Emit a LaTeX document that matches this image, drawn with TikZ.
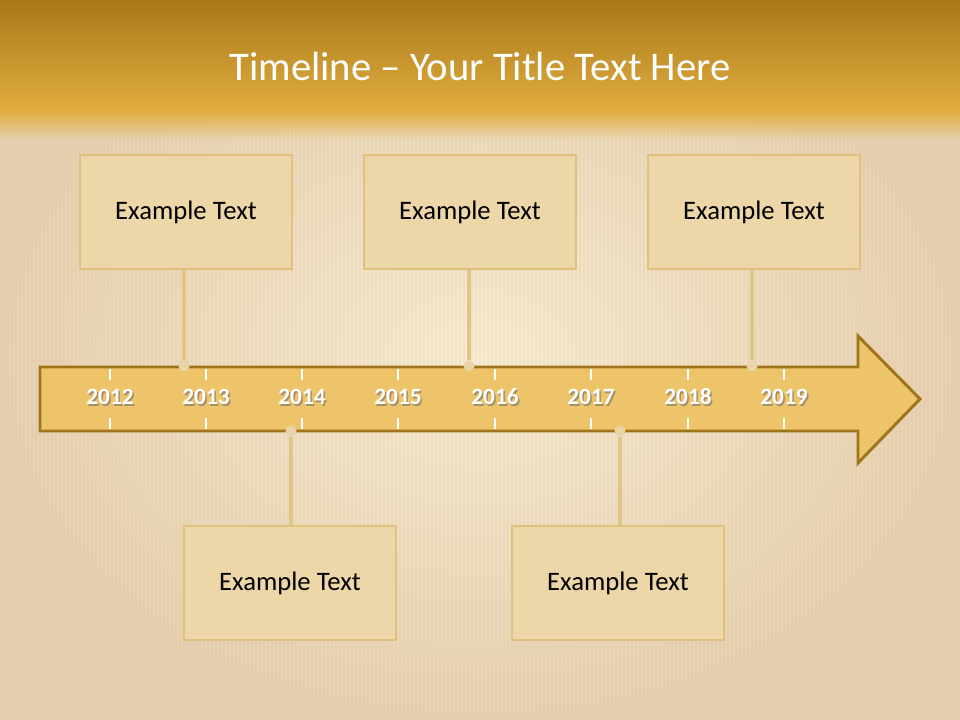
\documentclass[tikz,border=0pt]{standalone}
\usepackage{fontspec}
\setmainfont{Carlito}
\usetikzlibrary{fadings}
\definecolor{bgA}{HTML}{F8ECD2}
\definecolor{bgB}{HTML}{E6D0B0}
\definecolor{bandTop}{HTML}{A87818}
\definecolor{bandBot}{HTML}{E2AE40}
\definecolor{arrowFill}{HTML}{EEC46A}
\definecolor{arrowLine}{HTML}{A0741A}
\definecolor{boxFill}{HTML}{EDD6A8}
\definecolor{boxLine}{HTML}{DFC07C}
\definecolor{connLine}{HTML}{E0C686}
\definecolor{dotFill}{HTML}{E8D4A8}
\definecolor{stripe}{HTML}{D8BE98}
\tikzfading[name=fadedown, top color=transparent!0, bottom color=transparent!100]
\tikzset{
  textbox/.style={draw=boxLine, line width=2.2pt, fill=boxFill, minimum width=159pt, minimum height=85.5pt, inner sep=0pt, font=\fontsize{20}{24}\selectfont, text=black},
  year/.style={font=\bfseries\fontsize{17.5}{21}\selectfont, text=white, inner sep=0pt},
  yearshadow/.style={font=\bfseries\fontsize{17.5}{21}\selectfont, text=black!60, inner sep=0pt, opacity=0.55},
  conn/.style={draw=connLine, line width=2.8pt},
  dot/.style={circle, fill=dotFill, inner sep=0pt, minimum size=8pt},
  tick/.style={draw=white, line width=0.9pt}
}
\begin{document}
\begin{tikzpicture}[x=0.75pt,y=-0.75pt]
\useasboundingbox (0,0) rectangle (960,720);
% background
\shade[inner color=bgA, outer color=bgB] (0,0) rectangle (960,720);
\foreach \sx in {0,4,...,956}{
  \draw[stripe, opacity=0.16, line width=0.8pt] (\sx,112) -- (\sx,720);
}
\shade[top color=bandTop, bottom color=bandBot] (0,0) rectangle (960,112);
\fill[bandBot, path fading=fadedown] (0,111) rectangle (960,140);
\node[font=\fontsize{30.5}{36}\selectfont, text=white] (title) at (480,67) {Timeline – Your Title Text Here};
% arrow
\draw[fill=arrowFill, draw=arrowLine, line width=2.2pt, line join=miter]
  (40,367) -- (858,367) -- (858,336) -- (920,399) -- (858,463) -- (858,431) -- (40,431) -- cycle;
% ticks and years
\foreach \x/\y [count=\i] in {110/2012,206/2013,302/2014,398/2015,495/2016,591/2017,688/2018,784/2019}{
  \draw[tick] (\x,369) -- (\x,380);
  \draw[tick] (\x,418) -- (\x,429);
  \node[yearshadow] at (\x+1.5,398.5) {\y};
  \node[year] (y\i) at (\x,397) {\y};
}
% dots
\node[dot] (d1) at (184,366) {};
\node[dot] (d2) at (469,366) {};
\node[dot] (d3) at (752,366) {};
\node[dot] (d4) at (291,431) {};
\node[dot] (d5) at (620,431) {};
% boxes
\node[textbox] (b1) at (186,212) {Example Text};
\node[textbox] (b2) at (470,212) {Example Text};
\node[textbox] (b3) at (754,212) {Example Text};
\node[textbox] (b4) at (290,583) {Example Text};
\node[textbox] (b5) at (618,583) {Example Text};
% connectors
\draw[conn] (d1.north) -- (b1.south -| d1.north);
\draw[conn] (d2.north) -- (b2.south -| d2.north);
\draw[conn] (d3.north) -- (b3.south -| d3.north);
\draw[conn] (d4.south) -- (b4.north -| d4.south);
\draw[conn] (d5.south) -- (b5.north -| d5.south);
\node[dot] at (d1) {};
\node[dot] at (d2) {};
\node[dot] at (d3) {};
\node[dot] at (d4) {};
\node[dot] at (d5) {};
\end{tikzpicture}
\end{document}
